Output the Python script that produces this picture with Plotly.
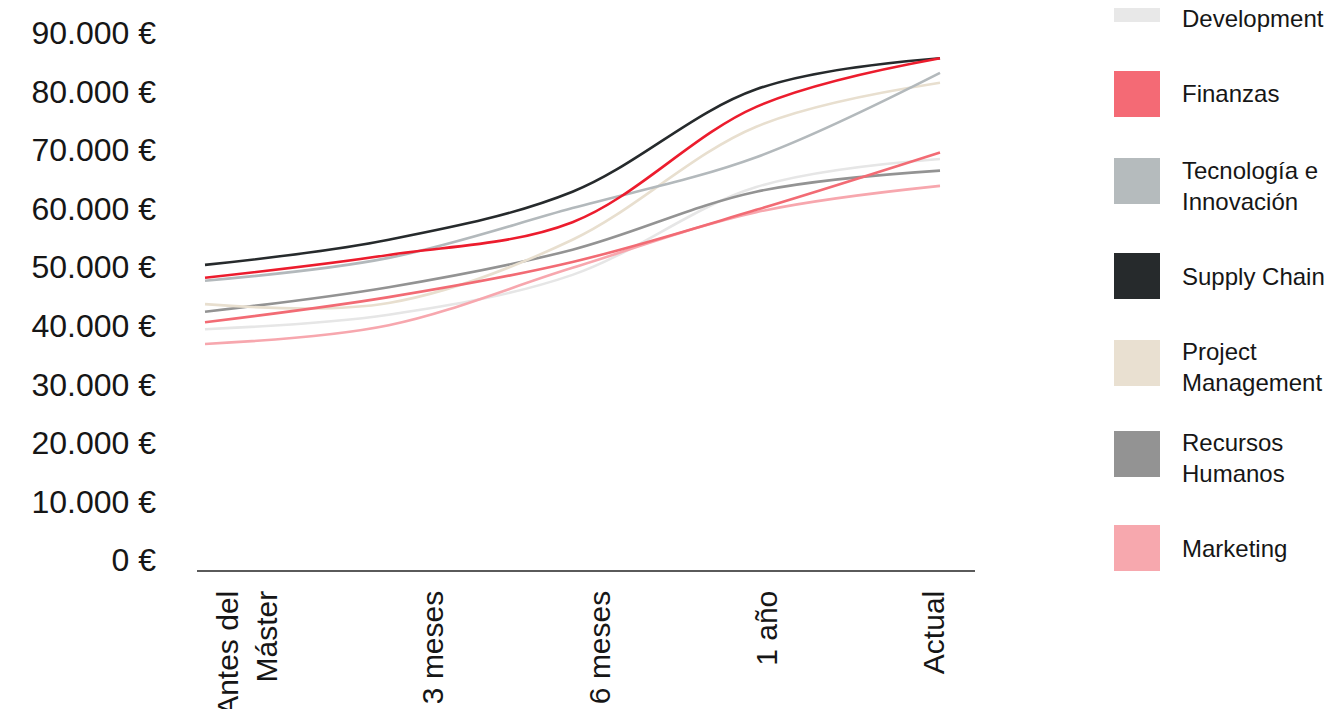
import plotly.graph_objects as go

# ---- data ----
periods = ["Antes del Máster", "3 meses", "6 meses", "1 año", "Actual"]
x_idx = [0, 1, 2, 3, 4]
tick_labels = ["Antes del<br>Máster", "3 meses", "6 meses", "1 año", "Actual"]
tick_pos = [0.23, 1.24, 2.15, 3.06, 3.97]

y_ticks = [0, 10000, 20000, 30000, 40000, 50000, 60000, 70000, 80000, 90000]
y_tick_text = ["0 €", "10.000 €", "20.000 €", "30.000 €", "40.000 €",
               "50.000 €", "60.000 €", "70.000 €", "80.000 €", "90.000 €"]

consultoria = [48200, 52100, 57700, 77400, 85700]
business_dev = [39400, 41900, 48700, 63700, 68500]
finanzas = [40600, 44900, 50900, 59800, 69600]
tecnologia = [47700, 51600, 60100, 68800, 83200]
supply_chain = [50400, 54700, 62900, 80400, 85700]
project_mgmt = [43700, 43900, 54700, 74000, 81500]
rrhh = [42400, 46600, 53000, 62900, 66500]
marketing = [36900, 40100, 49900, 59400, 63900]

series_names = ["Consultoría", "Business Development", "Finanzas", "Tecnología e Innovación",
                "Supply Chain", "Project Management", "Recursos Humanos", "Marketing"]
series_values = [consultoria, business_dev, finanzas, tecnologia,
                 supply_chain, project_mgmt, rrhh, marketing]
line_colors = ["#ec1c2d", "#e6e6e6", "#f26b74", "#b3b9bc",
               "#262a2c", "#e8dfcf", "#939393", "#f7a7ae"]

# visible legend entries (the top of the reference legend is cut off)
legend_labels = ["Development", "Finanzas", "Tecnología e<br>Innovación", "Supply Chain",
                 "Project<br>Management", "Recursos<br>Humanos", "Marketing"]
legend_colors = ["#e8e8e8", "#f46a75", "#b5bbbd", "#262a2c", "#e9e0d1", "#939393", "#f7a8ae"]
legend_swatch_centres = [-1, 94, 181, 276, 363, 454, 548]
legend_text_centres = [19, 94, 186, 276, 367, 458, 548]

# ---- layout geometry (page pixels; page has an 8px body margin) ----
OFF = 8
W, H = 1339, 709
AX_L, AX_R, AX_B, AX_T = 197, 975, 570, 8   # plot area in page pixels
L = AX_L - OFF
R = W - (AX_R - OFF)
T = AX_T - OFF
B = H - (AX_B - OFF)
PW, PH = W - L - R, H - T - B

def px_to_paper_x(px):
    return (px - AX_L) / PW

def px_to_paper_y(py):
    return (AX_B - py) / PH

FONT = "Liberation Sans, Arial, Helvetica, sans-serif"

fig = go.Figure()

draw_order = [1, 7, 6, 5, 2, 3, 4, 0]
for i in draw_order:
    fig.add_trace(go.Scatter(
        x=x_idx, y=series_values[i], mode="lines",
        name=series_names[i],
        line=dict(color=line_colors[i], width=2.6, shape="spline", smoothing=1.0),
        showlegend=False, hoverinfo="skip",
    ))

# custom legend (swatches + labels)
shapes = []
annotations = []
for lab, col, cs, ct in zip(legend_labels, legend_colors, legend_swatch_centres, legend_text_centres):
    shapes.append(dict(
        type="rect", xref="paper", yref="paper",
        x0=px_to_paper_x(1114), x1=px_to_paper_x(1160),
        y0=px_to_paper_y(cs + 23), y1=px_to_paper_y(cs - 23),
        fillcolor=col, line=dict(width=0), layer="above",
    ))
    annotations.append(dict(
        xref="paper", yref="paper",
        x=px_to_paper_x(1180), y=px_to_paper_y(ct),
        xanchor="left", yanchor="middle", align="left",
        text=lab, showarrow=False,
        font=dict(family=FONT, size=24, color="#161616"),
    ))

fig.update_layout(
    width=W, height=H,
    margin=dict(l=L, r=R, t=T, b=B, pad=0),
    paper_bgcolor="white", plot_bgcolor="white",
    showlegend=False,
    font=dict(family=FONT, color="#161616"),
    shapes=shapes, annotations=annotations,
)

px_per_unit = (940 - 205) / 4
fig.update_xaxes(
    range=[-(205 - AX_L) / px_per_unit, 4 + (AX_R - 940) / px_per_unit],
    tickmode="array", tickvals=tick_pos, ticktext=tick_labels,
    tickangle=-90, tickfont=dict(family=FONT, size=30, color="#161616"),
    showgrid=False, zeroline=False, automargin=False,
    showline=True, linecolor="#5a5a5a", linewidth=1.5,
    ticks="", ticklabelstandoff=7,
)

val_per_px = 10000 / 58.55
fig.update_yaxes(
    range=[-(AX_B - 560) * val_per_px, (560 - AX_T) * val_per_px],
    tickmode="array", tickvals=y_ticks, ticktext=y_tick_text,
    tickfont=dict(family=FONT, size=32, color="#161616"),
    showgrid=False, zeroline=False, showline=False, automargin=False,
    ticks="", ticklabelstandoff=40,
)

fig.write_html("out.html")
